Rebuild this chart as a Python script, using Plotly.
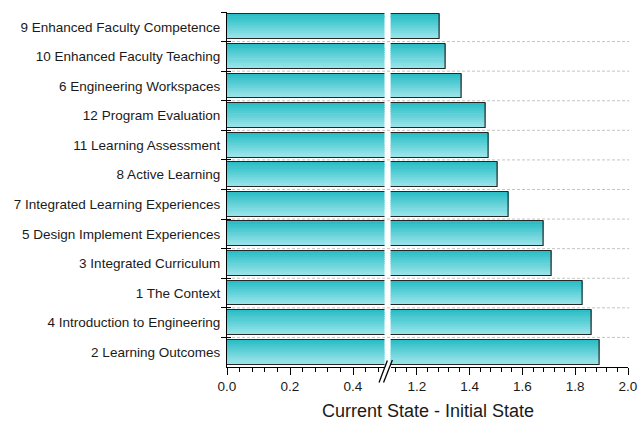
import plotly.graph_objects as go

# ---------------- data ----------------
categories = [
    "9 Enhanced Faculty Competence",
    "10 Enhanced Faculty Teaching",
    "6 Engineering Workspaces",
    "12 Program Evaluation",
    "11 Learning Assessment",
    "8 Active Learning",
    "7 Integrated Learning Experiences",
    "5 Design Implement Experiences",
    "3 Integrated Curriculum",
    "1 The Context",
    "4 Introduction to Engineering",
    "2 Learning Outcomes",
]
values = [1.285, 1.309, 1.370, 1.462, 1.473, 1.505, 1.546, 1.679, 1.712, 1.828, 1.863, 1.893]
left_ticks = [0.0, 0.2, 0.4]
right_ticks = [1.2, 1.4, 1.6, 1.8, 2.0]
left_range = [0.0, 0.5]
right_range = [1.1, 2.0]
x_title = "Current State - Initial State"

# ---------------- style / layout ----------------
W, H = 639, 424
ML, MR, MT, MB = 227, 11, 12, 57
plot_w = W - ML - MR
plot_h = H - MT - MB
d1 = 157.5 / plot_w
d2 = 163.6 / plot_w

BAR_W = 0.84
N_STRIPS = 12
top_rgb = (44, 190, 198)
bot_rgb = (155, 229, 234)
FONT = "Liberation Sans, Arial, sans-serif"
TXT = "#1a1a1a"

fig = go.Figure()

def strip_color(i):
    t = i / (N_STRIPS - 1)
    c = [round(a + (b - a) * t) for a, b in zip(top_rgb, bot_rgb)]
    return f"rgb({c[0]},{c[1]},{c[2]})"

for xa in ["x", "x2"]:
    sw = BAR_W / N_STRIPS
    for i in range(N_STRIPS):
        w = sw * 1.2 if i < N_STRIPS - 1 else sw
        fig.add_trace(go.Bar(
            y=categories, x=values, orientation="h",
            width=w, offset=-BAR_W / 2 + i * sw,
            marker=dict(color=strip_color(i), line=dict(width=0)),
            xaxis=xa, yaxis="y", showlegend=False, hoverinfo="skip",
        ))
    fig.add_trace(go.Bar(
        y=categories, x=values, orientation="h",
        width=BAR_W, offset=-BAR_W / 2,
        marker=dict(color="rgba(0,0,0,0)", line=dict(color="#262626", width=1.1)),
        xaxis=xa, yaxis="y", showlegend=False, hoverinfo="skip",
    ))

# dummy trace to activate inside-tick overlay axis
fig.add_trace(go.Scatter(x=[0.1], y=[0], mode="markers", marker=dict(opacity=0),
                         xaxis="x", yaxis="y2", showlegend=False, hoverinfo="skip"))

n = len(categories)
xaxis_common = dict(
    anchor="y", showline=True, linecolor="black", linewidth=1.2, automargin=False,
    showgrid=False, zeroline=False, ticks="outside", ticklen=7, tickwidth=1.2,
    tickcolor="black", tickformat=".1f",
    tickfont=dict(family=FONT, size=13.5, color=TXT),
    minor=dict(dtick=0.04, tick0=0, ticks="outside", ticklen=4, tickwidth=1.1, tickcolor="black"),
)

fig.update_layout(
    width=W, height=H,
    margin=dict(l=ML, r=MR, t=MT, b=MB, autoexpand=False),
    paper_bgcolor="white", plot_bgcolor="rgba(0,0,0,0)",
    barmode="overlay", bargap=0, hovermode=False,
    xaxis=dict(domain=[0, d1], range=left_range, tickmode="array", tickvals=left_ticks, **xaxis_common),
    xaxis2=dict(domain=[d2, 1], range=right_range, tickmode="array", tickvals=right_ticks, **xaxis_common),
    yaxis=dict(
        type="category", categoryorder="array", categoryarray=categories,
        range=[n - 0.5, -0.5], anchor="x", automargin=False,
        showline=True, linecolor="black", linewidth=1.2,
        ticks="outside", tickson="boundaries", ticklen=5, tickwidth=1.2, tickcolor="black",
        ticklabelstandoff=3,
        showgrid=False, zeroline=False,
        tickfont=dict(family=FONT, size=13.5, color=TXT),
    ),
    yaxis2=dict(
        overlaying="y", anchor="x", side="left", type="linear",
        range=[n - 0.5, -0.5], tickmode="array", automargin=False,
        tickvals=[k - 0.5 for k in range(n + 1)],
        ticks="inside", ticklen=4, tickwidth=1.2, tickcolor="black",
        showticklabels=False, showgrid=False, zeroline=False, showline=False,
    ),
)

# dashed grid lines between categories (continuous across the break)
for k in range(1, n):
    fig.add_shape(type="line", xref="paper", yref="y", x0=0, x1=1.003,
                  y0=k - 0.5, y1=k - 0.5, layer="below",
                  line=dict(color="#c4c4c4", width=1, dash="3px,2px"))

# axis-break marks
cx = (d1 + d2) / 2
px = lambda v: v / plot_w
py = lambda v: v / plot_h
for (bx0, by0, bx1, by1) in [(-8.5, -15.5, -0.2, 6.5), (-4.0, -15.5, 4.8, 7.0)]:
    fig.add_shape(type="line", xref="paper", yref="paper",
                  x0=cx + px(bx0), y0=py(by0), x1=cx + px(bx1), y1=py(by1),
                  line=dict(color="black", width=1.3))

fig.add_annotation(text=x_title, xref="paper", yref="paper", x=0.5, y=-py(44),
                   xanchor="center", yanchor="middle", showarrow=False,
                   font=dict(family=FONT, size=18, color=TXT))

fig.write_html("out.html", config={"displayModeBar": False},
               post_script="document.body.style.margin='0';document.body.style.overflow='hidden';")
